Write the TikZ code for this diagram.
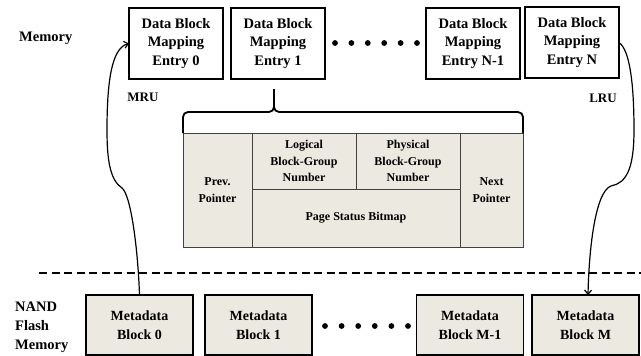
\documentclass[tikz,border=0pt]{standalone}
\usepackage{fontspec}
\setmainfont{Liberation Serif}
\usetikzlibrary{arrows.meta}
\definecolor{beige}{RGB}{236,233,224}
\begin{document}
\begin{tikzpicture}[x=1pt,y=-1pt,
 entry/.style={draw, line width=1.3pt, fill=white, minimum width=94pt, minimum height=71pt, align=center, font=\bfseries\fontsize{14.5}{18.3}\selectfont, inner sep=0pt, outer sep=0pt},
 meta/.style={draw, line width=1.3pt, fill=beige, minimum width=107pt, minimum height=60pt, align=center, font=\bfseries\fontsize{14}{19}\selectfont, inner sep=0pt, outer sep=0pt},
 cell/.style={draw=black!75, line width=0.8pt, fill=beige, align=center, inner sep=0pt, outer sep=0pt, font=\bfseries\fontsize{12}{16.3}\selectfont},
 lbl/.style={font=\bfseries\fontsize{14.5}{18.8}\selectfont, align=left, inner sep=0pt},
 side/.style={font=\bfseries\fontsize{13}{15}\selectfont, inner sep=0pt},
 link/.style={line width=1.2pt, -{Straight Barb[length=4pt,width=7pt]}},
 brace/.style={line width=1.8pt, rounded corners=5pt}]
\useasboundingbox (0,0) rectangle (641,356);

% top entries
\node[entry] (e0) at (176,43.5) {Data Block\\Mapping\\Entry 0};
\node[entry] (e1) at (278,43.5) {Data Block\\Mapping\\Entry 1};
\node[entry] (en1) at (473,43.5) {Data Block\\Mapping\\Entry N-1};
\node[entry] (en) at (572,42.5) {Data Block\\Mapping\\Entry N};

% dots
\foreach \i in {0,...,5} \fill (335+\i*16.4,43) circle (2.9pt);
\foreach \i in {0,...,5} \fill (325+\i*16.6,326) circle (2.9pt);

% labels
\node[lbl, anchor=west] (mem) at (19,38) {Memory};
\node[lbl, anchor=west] (nand) at (15,327) {NAND\\Flash\\Memory};
\node[side] (mru) at (143,97) {MRU};
\node[side] (lru) at (603,98) {LRU};

% table
\node[cell, minimum width=69pt, minimum height=114pt] (prev) at (217.5,190) {Prev.\\Pointer};
\node[cell, minimum width=104pt, minimum height=56pt] (lbg) at (304,161) {Logical\\Block-Group\\Number};
\node[cell, minimum width=104pt, minimum height=56pt] (pbg) at (408,161) {Physical\\Block-Group\\Number};
\node[cell, minimum width=208pt, minimum height=58pt] (psb) at (356,218) {Page Status Bitmap};
\node[cell, minimum width=63pt, minimum height=114pt] (next) at (491.5,190) {Next\\Pointer};

% brace
\draw[brace] (183,133) -- (183,112) -- (274,112) -- (274,89);
\draw[brace] (274,89) -- (274,112) -- (523,112) -- (523,133);

% dashed separator
\draw[line width=1.3pt, dash pattern=on 8pt off 4.5pt] (39,273) -- (641,273);

% bottom blocks
\node[meta] (m0) at (139.5,325) {Metadata\\Block 0};
\node[meta] (m1) at (258.5,325) {Metadata\\Block 1};
\node[meta] (mm1) at (470,325) {Metadata\\Block M-1};
\node[meta] (mm) at (585.5,325) {Metadata\\Block M};

% MRU / LRU links
\draw[link] (m0.north) .. controls (138,250) and (131,195) .. (122,188)
  .. controls (110,180) and (107,160) .. (107,130)
  .. controls (107,80) and (112,48) .. (e0.west);
\draw[link] (en.east) .. controls (630,50) and (634,85) .. (634,130)
  .. controls (634,170) and (626,183) .. (611,186)
  .. controls (595,192) and (589,250) .. ([xshift=2.5pt]mm.north);
\end{tikzpicture}
\end{document}
